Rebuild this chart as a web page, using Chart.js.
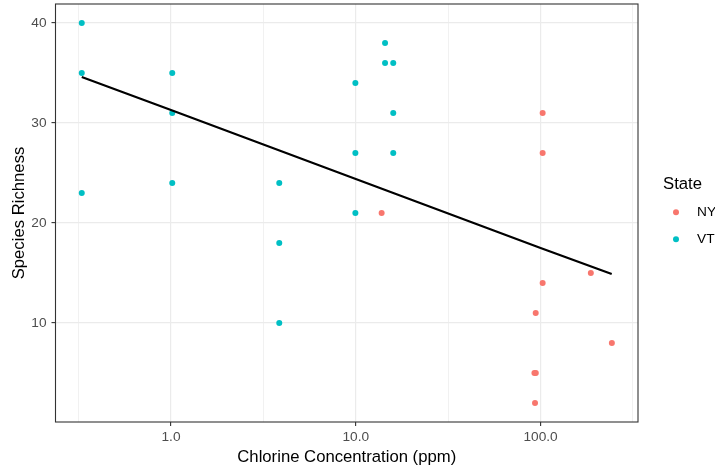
<!DOCTYPE html>
<html>
<head>
<meta charset="utf-8">
<script src="https://cdn.jsdelivr.net/npm/chart.js@4/dist/chart.umd.min.js"></script>
<style>
  html, body { margin: 0; padding: 0; background: #fff; }
  #wrap { width: 715px; height: 469px; position: relative; }
</style>
</head>
<body>
<div id="wrap"><canvas id="c" width="715" height="469"></canvas></div>
<script>
// Chlorine concentration (ppm) and species richness by state
const nyChlorine = [13.8, 102.6, 102.6, 102.6, 94.1, 187, 243, 92.6, 94.2, 93.3];
const nyRichness = [21, 31, 27, 14, 11, 15, 8, 5, 5, 2];

const vtChlorine = [0.329, 0.329, 0.329, 1.016, 1.016, 1.016, 3.855, 3.855, 3.855,
                    9.95, 9.95, 9.95, 14.4, 14.4, 15.95, 15.95, 15.95];
const vtRichness = [40, 35, 23, 35, 31, 24, 24, 18, 10, 34, 27, 21, 38, 36, 36, 31, 27];

// Fitted trend (richness vs. log chlorine)
const fitChlorine = [0.329, 1, 10, 100, 242.6];
const fitRichness = [34.6, 31.3, 24.4, 17.5, 14.9];

// Axis breaks
const xMajorBreaks = [1, 10, 100];
const xMinorBreaks = [0.316, 3.16, 31.6, 316];
const xTickLabels = ['1.0', '10.0', '100.0'];
const yBreaks = [10, 20, 30, 40];
const yTickLabels = ['10', '20', '30', '40'];

const stateNames = ['NY', 'VT'];
const stateColors = ['#F8766D', '#00BFC4'];

const pts = (xs, ys) => xs.map((x, i) => ({ x: x, y: ys[i] }));

const FONT = "'Liberation Sans', Arial, sans-serif";
const TICK_SIZE = 13.7;
const TITLE_SIZE = 16.7;

// Panel border drawn over the plot area
const panelBorder = {
  id: 'panelBorder',
  afterDatasetsDraw(chart) {
    const a = chart.chartArea, ctx = chart.ctx;
    ctx.save();
    ctx.strokeStyle = '#333333';
    ctx.lineWidth = 1.1;
    ctx.strokeRect(a.left, a.top, a.right - a.left, a.bottom - a.top);
    ctx.restore();
  }
};

// Legend at the right: title and a dot per state
const stateLegend = {
  id: 'stateLegend',
  afterDraw(chart) {
    const ctx = chart.ctx;
    ctx.save();
    ctx.fillStyle = '#000';
    ctx.textBaseline = 'middle';
    ctx.textAlign = 'left';
    ctx.font = TITLE_SIZE + 'px ' + FONT;
    ctx.fillText('State', 663, 184);
    ctx.font = TICK_SIZE + 'px ' + FONT;
    stateNames.forEach((name, i) => {
      const y = 212.3 + i * 26.9;
      ctx.fillStyle = stateColors[i];
      ctx.beginPath();
      ctx.arc(676, y, 3, 0, Math.PI * 2);
      ctx.fill();
      ctx.fillStyle = '#000';
      ctx.fillText(name, 697, y);
    });
    ctx.restore();
  }
};

const xTicks = xMinorBreaks.concat(xMajorBreaks).sort((a, b) => a - b);
const isMajorX = v => xMajorBreaks.some(m => Math.abs(m - v) < 1e-9);

new Chart(document.getElementById('c'), {
  data: {
    datasets: [
      {
        type: 'line',
        label: 'fit',
        data: pts(fitChlorine, fitRichness),
        borderColor: '#000000',
        borderWidth: 2.2,
        pointRadius: 0,
        fill: false,
        tension: 0,
        order: 0
      },
      {
        type: 'scatter',
        label: stateNames[0],
        data: pts(nyChlorine, nyRichness),
        backgroundColor: stateColors[0],
        borderWidth: 0,
        pointRadius: 3,
        order: 1
      },
      {
        type: 'scatter',
        label: stateNames[1],
        data: pts(vtChlorine, vtRichness),
        backgroundColor: stateColors[1],
        borderWidth: 0,
        pointRadius: 3,
        order: 1
      }
    ]
  },
  options: {
    responsive: false,
    animation: false,
    events: [],
    layout: { padding: { top: 3, right: 77, left: 0, bottom: 0 } },
    plugins: {
      legend: { display: false },
      tooltip: { enabled: false },
      title: { display: false }
    },
    scales: {
      x: {
        type: 'logarithmic',
        min: 0.2372,
        max: 336.6,
        afterBuildTicks(scale) {
          scale.ticks = xTicks.map(v => ({ value: v, major: isMajorX(v) }));
        },
        afterFit(scale) {
          scale.height = 47;
          scale.paddingLeft = 0;
          scale.paddingRight = 0;
        },
        ticks: {
          autoSkip: false,
          maxRotation: 0,
          minRotation: 0,
          padding: 3,
          color: '#4D4D4D',
          font: { family: FONT, size: TICK_SIZE },
          callback(value) {
            const i = xMajorBreaks.findIndex(m => Math.abs(m - value) < 1e-9);
            return i >= 0 ? xTickLabels[i] : '';
          }
        },
        grid: {
          color: '#EBEBEB',
          lineWidth: ctx => (ctx.tick && ctx.tick.major ? 1.2 : 0.7),
          drawTicks: true,
          tickLength: 4,
          tickWidth: 1.1,
          tickColor: ctx => (ctx.tick && ctx.tick.major ? '#333333' : 'rgba(0,0,0,0)')
        },
        border: { display: false },
        title: {
          display: true,
          text: 'Chlorine Concentration (ppm)',
          color: '#000000',
          font: { family: FONT, size: TITLE_SIZE },
          padding: { top: 0, bottom: 2 }
        }
      },
      y: {
        type: 'linear',
        min: 0.1,
        max: 41.9,
        afterBuildTicks(scale) {
          scale.ticks = yBreaks.map(v => ({ value: v }));
        },
        afterFit(scale) {
          scale.width = 55.5;
          scale.paddingTop = 0;
          scale.paddingBottom = 0;
        },
        ticks: {
          autoSkip: false,
          padding: 5,
          color: '#4D4D4D',
          font: { family: FONT, size: TICK_SIZE },
          callback(value) {
            const i = yBreaks.indexOf(value);
            return i >= 0 ? yTickLabels[i] : '';
          }
        },
        grid: {
          color: '#EBEBEB',
          lineWidth: 1.2,
          drawTicks: true,
          tickLength: 4,
          tickWidth: 1.1,
          tickColor: '#333333'
        },
        border: { display: false },
        title: {
          display: true,
          text: 'Species Richness',
          color: '#000000',
          font: { family: FONT, size: TITLE_SIZE },
          padding: { top: 9, bottom: 0 }
        }
      }
    }
  },
  plugins: [panelBorder, stateLegend]
});
</script>
</body>
</html>
